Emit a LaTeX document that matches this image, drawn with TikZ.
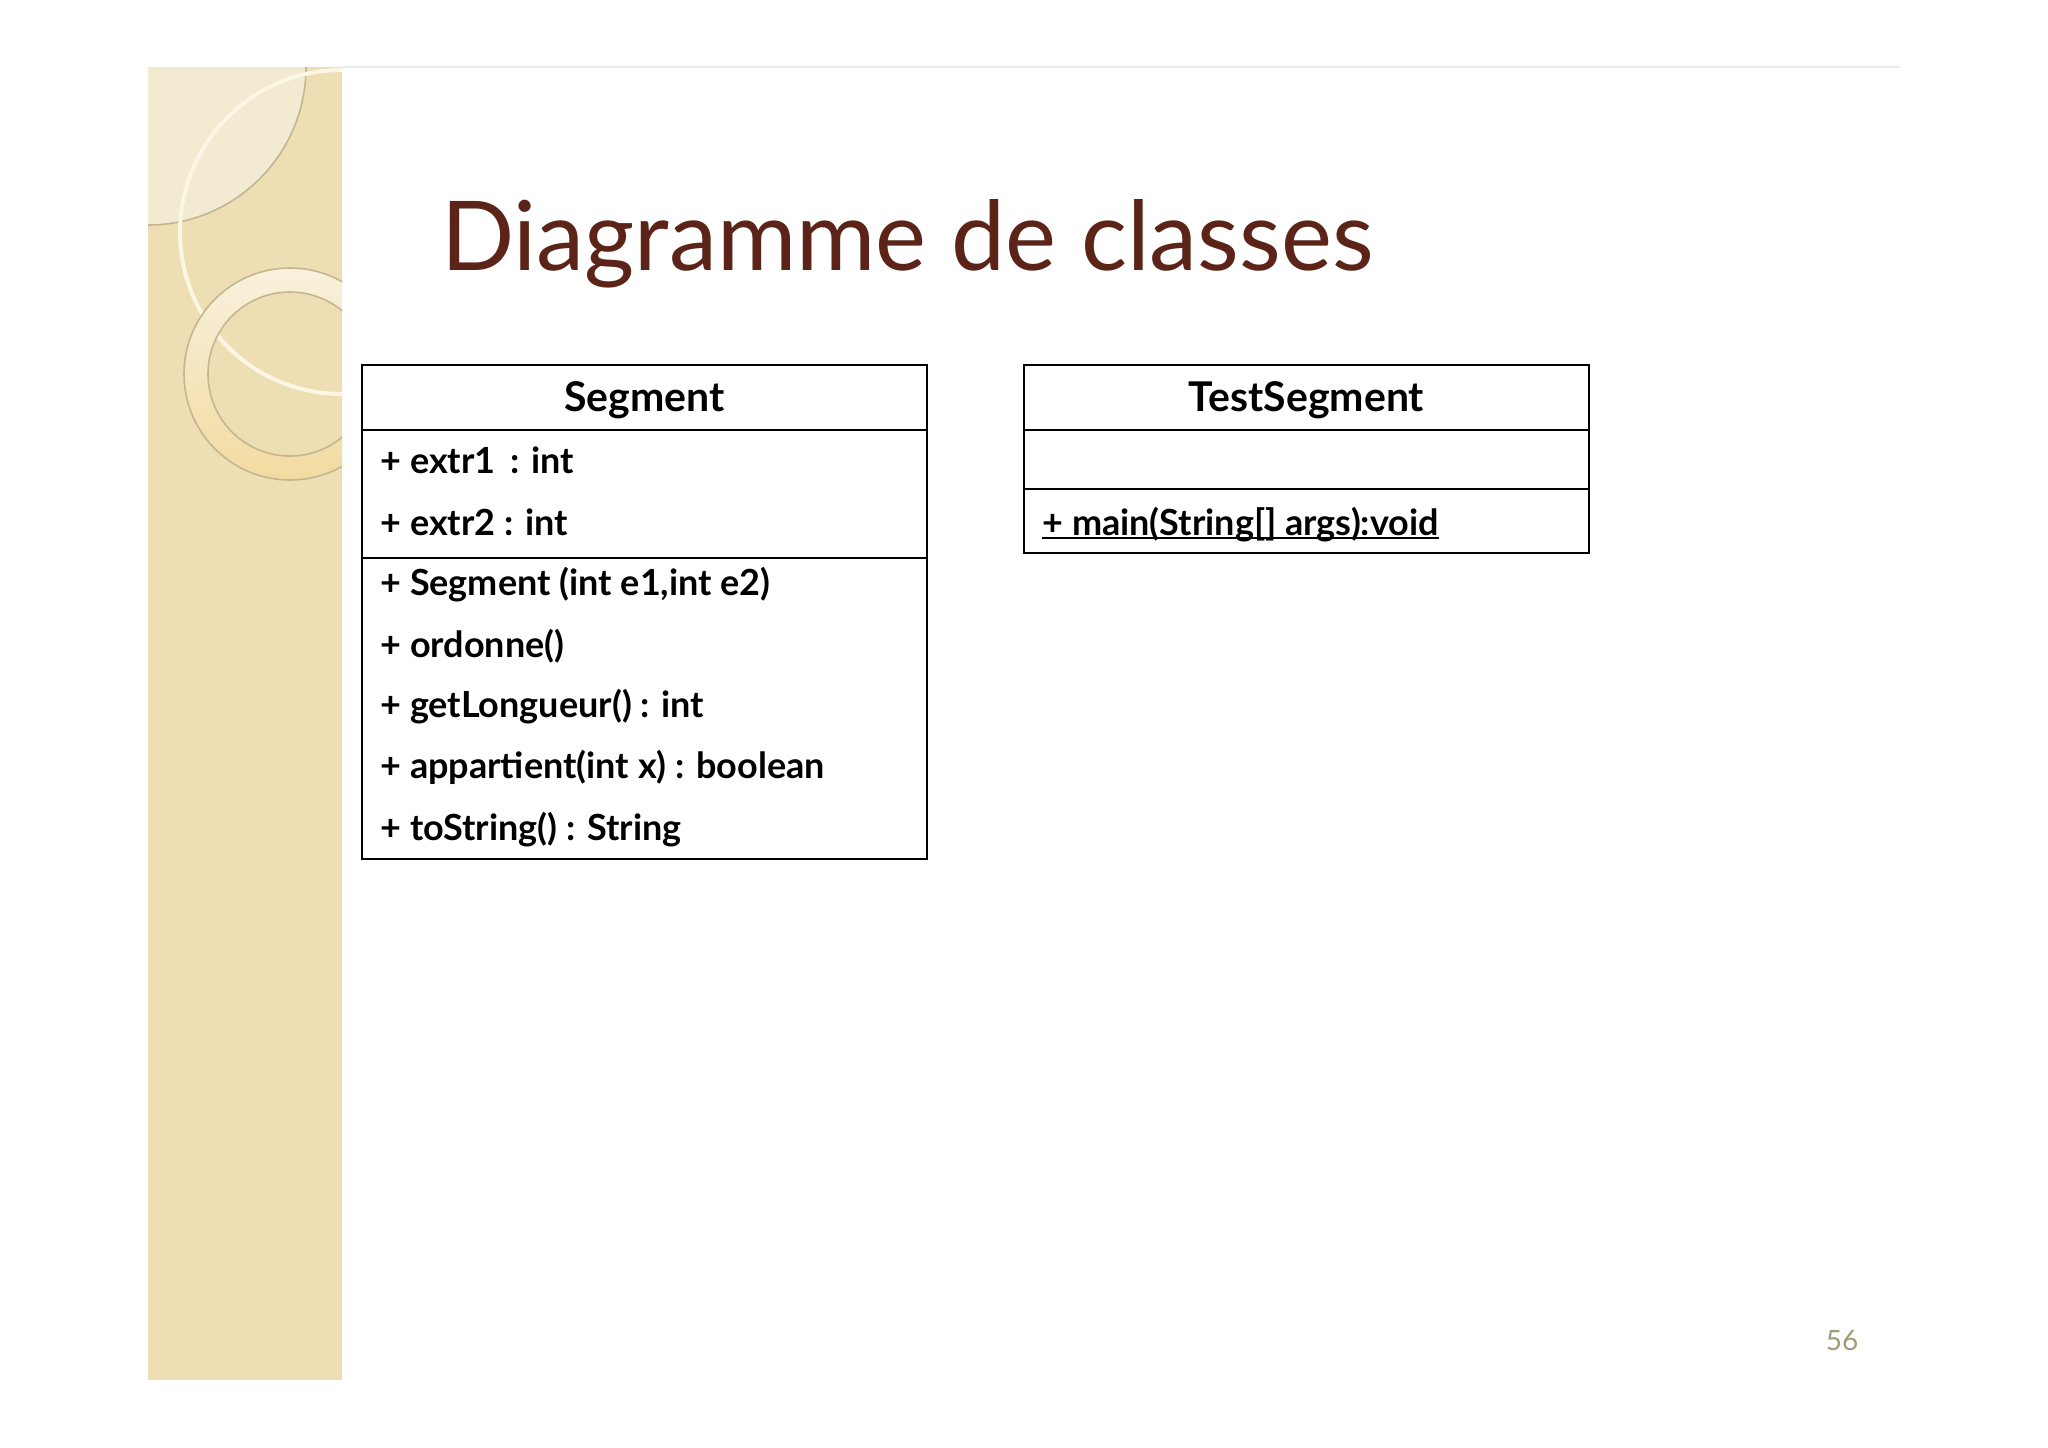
\documentclass[tikz,border=0pt]{standalone}
\usepackage{fontspec}
\setmainfont{Lato}
\definecolor{stripbg}{RGB}{238,222,180}
\definecolor{stripline}{RGB}{196,182,145}
\definecolor{quarterfill}{RGB}{243,234,210}
\definecolor{creamline}{RGB}{252,246,228}
\definecolor{ringtop}{RGB}{249,241,222}
\definecolor{ringbot}{RGB}{242,219,160}
\definecolor{titlecol}{RGB}{92,36,24}
\definecolor{pagenum}{RGB}{160,155,120}
\begin{document}
\begin{tikzpicture}[x=0.5pt,y=-0.5pt,
  compart/.style={draw=black,line width=1.25pt,minimum width=282.5pt,inner sep=0pt,anchor=north west,outer sep=0pt},
  clsname/.style={inner sep=0pt,anchor=base,font=\fontsize{20.5}{23}\selectfont\bfseries},
  member/.style={inner sep=0pt,anchor=base west,font=\fontsize{18}{21}\selectfont\bfseries},
  ornament/.style={stripline,line width=0.8pt}]
\useasboundingbox (0,0) rectangle (2048,1447);
\fill[white] (0,0) rectangle (2048,1447);

% decorative strip
\begin{scope}
  \clip (148,67) rectangle (342,1380);
  \fill[stripbg] (148,67) rectangle (342,1380);
  \fill[quarterfill] (148,67) circle[radius=79pt];
  \draw[ornament] (148,67) circle[radius=79pt];
  \draw[creamline,line width=2pt] (342,232) circle[radius=81pt];
  \shade[even odd rule,top color=ringtop,bottom color=ringbot]
    (290,374) circle[radius=53pt] (290,374) circle[radius=41pt];
  \draw[ornament] (290,374) circle[radius=53pt] (290,374) circle[radius=41pt];
\end{scope}
\draw[black!8,line width=0.6pt] (342,67) -- (1900,67);

% title
\node[anchor=base west,inner sep=0pt,text=titlecol,font=\fontsize{48.2}{54}\selectfont] (title) at (441,270) {Diagramme de classes};

% class Segment
\node[compart,minimum height=32.5pt] (segH) at (362,365) {};
\node[compart,minimum height=64pt] (segA) at (segH.south west) {};
\node[compart,minimum height=150.5pt] (segM) at (segA.south west) {};
\node[clsname] (segN) at (644.5,411) {Segment};
\node[member] (sa1) at (380,473) {+ extr1 \,: int};
\node[member] (sa2) at (380,535) {+ extr2 : int};
\node[member] (sm1) at (380,595) {+ Segment (int e1,int e2)};
\node[member] (sm2) at (380,657) {+ ordonne()};
\node[member] (sm3) at (380,717) {+ getLongueur() : int};
\node[member] (sm4) at (380,778) {+ appartient(int x) : boolean};
\node[member] (sm5) at (380,840) {+ toString() : String};

% class TestSegment
\node[compart,minimum height=32.5pt] (tsH) at (1024,365) {};
\node[compart,minimum height=29.5pt] (tsA) at (tsH.south west) {};
\node[compart,minimum height=32pt] (tsM) at (tsA.south west) {};
\node[clsname] (tsN) at (1306.5,411) {TestSegment};
\node[member] (tm1) at (1042,535) {+ main(String[] args):void};
\draw[line width=1pt] ([yshift=-1.6pt]tm1.base west) -- ([yshift=-1.6pt]tm1.base east);

% page number
\node[anchor=base,inner sep=0pt,text=pagenum,font=\fontsize{14}{16}\selectfont] (pnum) at (1842,1350) {56};
\end{tikzpicture}
\end{document}
